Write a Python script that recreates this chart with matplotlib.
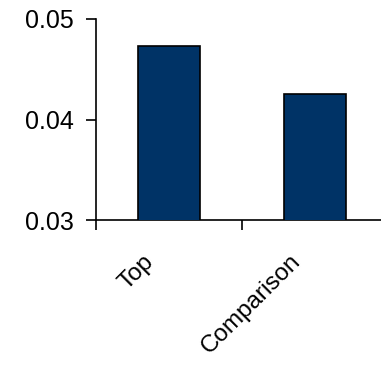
import matplotlib
matplotlib.use("Agg")
import matplotlib.pyplot as plt
from matplotlib.ticker import FixedLocator
from matplotlib.transforms import ScaledTranslation

plt.rcParams['font.family'] = ['Liberation Sans', 'DejaVu Sans']

categories = ["Top", "Comparison"]
values = [0.0473, 0.0425]
y_ticks = [0.03, 0.04, 0.05]
y_tick_labels = ["0.03", "0.04", "0.05"]

fig = plt.figure(figsize=(3.81, 3.66), dpi=100)
ax = fig.add_axes([96/381, (366-220)/366, (388-96)/381, (220-19)/366])

x = list(range(len(categories)))
ax.bar(x, values, width=0.42, color="#003366", edgecolor="black", linewidth=1.2, zorder=3)

ax.set_ylim(0.03, 0.05)
ax.set_xlim(-0.5, len(categories) - 0.5)
ax.set_yticks(y_ticks)
ax.set_yticklabels(y_tick_labels, fontsize=18)

ax.set_xticks(x)
ax.set_xticklabels(categories, fontsize=17.5, rotation=45, ha='right', va='top',
                   rotation_mode='anchor')
ax.tick_params(axis='x', which='major', length=0, pad=22)
offset = ScaledTranslation(-26/100, 0, fig.dpi_scale_trans)
for lbl in ax.get_xticklabels():
    lbl.set_transform(lbl.get_transform() + offset)
ax.xaxis.set_minor_locator(FixedLocator([-0.5, 0.5, 1.5]))
ax.tick_params(axis='x', which='minor', length=7, width=1.2, direction='out')
ax.tick_params(axis='y', length=7, width=1.2, direction='out', pad=9)

for s in ['top', 'right']:
    ax.spines[s].set_visible(False)
for s in ['left', 'bottom']:
    ax.spines[s].set_linewidth(1.2)

fig.savefig("out.png", dpi=100)
